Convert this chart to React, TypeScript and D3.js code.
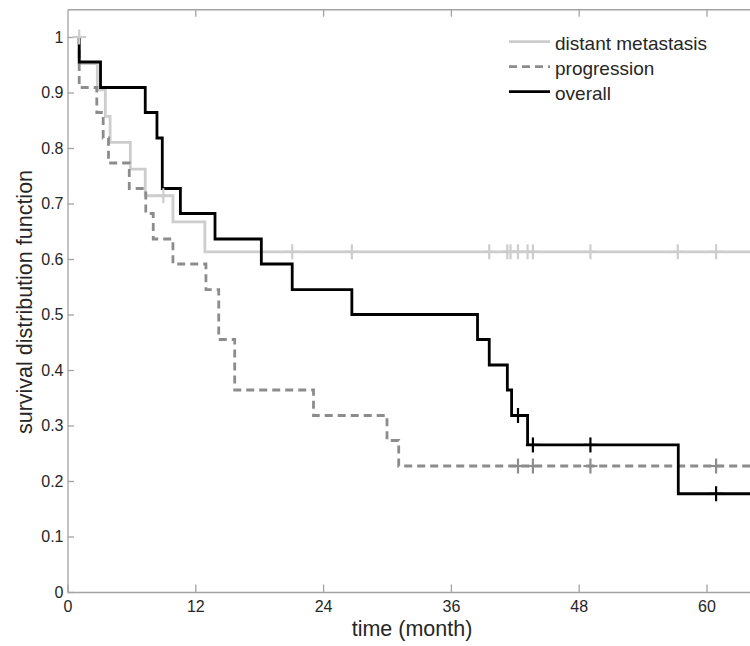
import React, { useEffect, useRef } from "react";
import * as d3 from "d3";

// event times (month) and survival after each event
const metTimes = [1.1, 2.8, 3.55, 4.0, 5.9, 7.3, 9.9, 12.9];
const metSurv = [0.952, 0.905, 0.857, 0.81, 0.762, 0.714, 0.667, 0.613];
const metCensor = [1.1, 9.0, 21.1, 26.7, 39.6, 41.3, 41.6, 42.3, 43.2, 43.7, 49.1, 57.3, 60.9];

const progTimes = [1.1, 2.75, 3.35, 3.85, 5.8, 7.35, 8.05, 9.9, 13.0, 14.2, 15.7, 23.1, 30.0, 31.1];
const progSurv = [0.909, 0.864, 0.818, 0.773, 0.727, 0.682, 0.636, 0.591, 0.545, 0.455, 0.364, 0.318, 0.273, 0.227];
const progCensor = [42.3, 43.7, 49.1, 60.9];

const overallTimes = [1.1, 3.1, 7.3, 8.4, 8.9, 10.6, 13.85, 18.2, 21.1, 26.7, 38.5, 39.6, 41.3, 41.7, 43.2, 57.35];
const overallSurv = [0.955, 0.909, 0.864, 0.818, 0.727, 0.682, 0.636, 0.591, 0.545, 0.5, 0.455, 0.409, 0.364, 0.318, 0.265, 0.177];
const overallCensor = [42.3, 43.7, 49.1, 60.9];

const seriesNames = ["distant metastasis", "progression", "overall"];

const xTicks = [0, 12, 24, 36, 48, 60];
const yTicks = [0, 0.1, 0.2, 0.3, 0.4, 0.5, 0.6, 0.7, 0.8, 0.9, 1];

const startTime = 1.1;
const xMax = 65;

export default function App() {
  const ref = useRef<SVGSVGElement>(null);

  useEffect(() => {
    const svg = d3.select(ref.current);
    svg.selectAll("*").remove();

    const font = "'Liberation Sans', Arial, Helvetica, sans-serif";
    const axisColor = "#a3a3a3";
    const textColor = "#262626";

    // 12 months ~ 127.8px, plot runs off the right edge like the original
    const x = d3.scaleLinear().domain([0, xMax]).range([67.5, 67.5 + xMax * 10.65]);
    const y = d3.scaleLinear().domain([0, 1.05]).range([592, 9.25]);

    const series = [
      { times: metTimes, surv: metSurv, censor: metCensor, color: "#cdcdcd", dash: null },
      { times: progTimes, surv: progSurv, censor: progCensor, color: "#8c8c8c", dash: "8,5" },
      { times: overallTimes, surv: overallSurv, censor: overallCensor, color: "#000", dash: null },
    ];

    // axes (MATLAB style, ticks pointing inward)
    const xAxis = svg.append("g")
      .attr("transform", `translate(0,${y(0)})`)
      .call(d3.axisBottom(x).tickValues(xTicks).tickSize(-7.5).tickSizeOuter(0).tickPadding(9));
    const yAxis = svg.append("g")
      .attr("transform", `translate(${x(0)},0)`)
      .call(d3.axisLeft(y).tickValues(yTicks).tickSize(-6.5).tickSizeOuter(0).tickPadding(4)
        .tickFormat((d) => String(Math.round(+d * 10) / 10)));
    const topAxis = svg.append("g")
      .attr("transform", `translate(0,${y(1.05)})`)
      .call(d3.axisTop(x).tickValues(xTicks.slice(1)).tickSize(-7.5).tickSizeOuter(0).tickFormat(() => ""));

    [xAxis, yAxis, topAxis].forEach((g) => {
      g.selectAll("path, line").attr("stroke", axisColor).attr("stroke-width", 1.3);
      g.selectAll("text").attr("fill", textColor).attr("font-size", 16).attr("font-family", font);
    });

    const line = d3.line<[number, number]>()
      .x((d) => x(d[0]))
      .y((d) => y(d[1]))
      .curve(d3.curveStepAfter);

    series.forEach((s) => {
      const pts: [number, number][] = [[startTime, 1]];
      s.times.forEach((t, i) => pts.push([t, s.surv[i]]));
      pts.push([xMax, s.surv[s.surv.length - 1]]);
      svg.append("path")
        .attr("d", line(pts))
        .attr("fill", "none")
        .attr("stroke", s.color)
        .attr("stroke-width", 2.8)
        .attr("stroke-dasharray", s.dash);
    });

    // censor marks: survival value just before time t
    series.forEach((s) => {
      s.censor.forEach((t) => {
        let v = 1;
        s.times.forEach((et, i) => { if (et < t) v = s.surv[i]; });
        const cx = x(t), cy = y(v);
        const g = svg.append("g").attr("stroke", s.color).attr("stroke-width", 2.2);
        g.append("line").attr("x1", cx).attr("x2", cx).attr("y1", cy - 7.5).attr("y2", cy + 7.5);
        g.append("line").attr("x1", cx - 7).attr("x2", cx + 7).attr("y1", cy).attr("y2", cy);
      });
    });

    // legend
    const legend = svg.append("g").attr("transform", "translate(509,41.7)");
    series.forEach((s, i) => {
      const row = legend.append("g").attr("transform", `translate(0,${i * 25})`);
      row.append("line")
        .attr("x1", 0).attr("x2", 41).attr("y1", 0).attr("y2", 0)
        .attr("stroke", s.color).attr("stroke-width", 2.8)
        .attr("stroke-dasharray", s.dash);
      row.append("text")
        .attr("x", 46).attr("y", 7.8)
        .attr("font-size", 19).attr("font-family", font).attr("fill", textColor)
        .text(seriesNames[i]);
    });

    // axis titles
    svg.append("text")
      .attr("x", 412).attr("y", 636)
      .attr("text-anchor", "middle")
      .attr("font-size", 21.5).attr("font-family", font).attr("fill", textColor)
      .text("time (month)");
    svg.append("text")
      .attr("transform", "translate(31.5,302) rotate(-90)")
      .attr("text-anchor", "middle")
      .attr("font-size", 21.5).attr("font-family", font).attr("fill", textColor)
      .text("survival distribution function");
  }, []);

  return (
    <svg ref={ref} width={750} height={646}
      style={{ position: "absolute", left: 0, top: 0, background: "#fff" }} />
  );
}
